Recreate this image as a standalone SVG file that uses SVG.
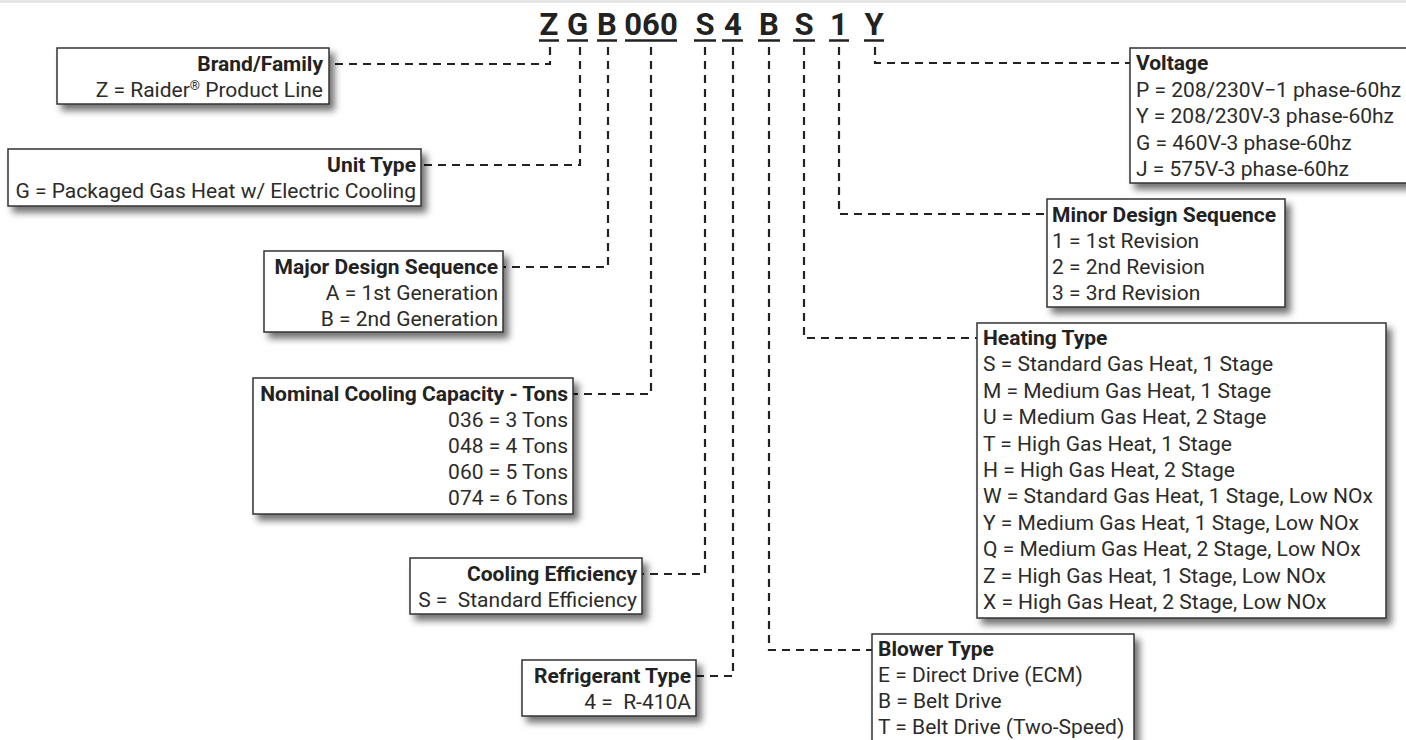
<svg xmlns="http://www.w3.org/2000/svg" width="1406" height="740" viewBox="0 0 1406 740">
<style>
.hdr{font-family:Roboto,"Liberation Sans",sans-serif;font-weight:bold;font-size:31px;fill:#222;text-anchor:middle}
.ul{stroke:#222;stroke-width:2.5}
.box{fill:#fff;stroke:#333;stroke-width:1.5;filter:url(#sh)}
.t{font-family:Roboto,"Liberation Sans",sans-serif;font-size:21px;fill:#2b2b2b}
.b{font-weight:bold;fill:#222}
.r{text-anchor:end}
.con{fill:none;stroke:#222;stroke-width:2.2;stroke-dasharray:8 6}
</style>
<defs>
<filter id="sh" x="-10%" y="-20%" width="130%" height="160%">
<feDropShadow dx="5" dy="6" stdDeviation="3.5" flood-color="#000" flood-opacity="0.55"/>
</filter>
</defs>
<rect x="0" y="0" width="1406" height="3" fill="#e6e6e6"/>
<g id="model-code">
<text class="hdr" x="549" y="35">Z</text>
<text class="hdr" x="577.5" y="35">G</text>
<text class="hdr" x="607" y="35">B</text>
<text class="hdr" x="651" y="35">060</text>
<text class="hdr" x="705" y="35">S</text>
<text class="hdr" x="733" y="35">4</text>
<text class="hdr" x="769" y="35">B</text>
<text class="hdr" x="804" y="35">S</text>
<text class="hdr" x="839" y="35">1</text>
<text class="hdr" x="874" y="35">Y</text>
<line class="ul" x1="539" y1="40.5" x2="559" y2="40.5"/>
<line class="ul" x1="567" y1="40.5" x2="588" y2="40.5"/>
<line class="ul" x1="597" y1="40.5" x2="617" y2="40.5"/>
<line class="ul" x1="625" y1="40.5" x2="677" y2="40.5"/>
<line class="ul" x1="694" y1="40.5" x2="716" y2="40.5"/>
<line class="ul" x1="722" y1="40.5" x2="743" y2="40.5"/>
<line class="ul" x1="758" y1="40.5" x2="780" y2="40.5"/>
<line class="ul" x1="793" y1="40.5" x2="815" y2="40.5"/>
<line class="ul" x1="829" y1="40.5" x2="849" y2="40.5"/>
<line class="ul" x1="864" y1="40.5" x2="884" y2="40.5"/>
</g>
<g id="connectors">
<path class="con" d="M550,47 V64 H329"/>
<path class="con" d="M580,47 V165 H421"/>
<path class="con" d="M608,47 V267 H503"/>
<path class="con" d="M651,47 V394 H573"/>
<path class="con" d="M705,47 V574 H642"/>
<path class="con" d="M733,47 V676 H696"/>
<path class="con" d="M769,47 V650 H872"/>
<path class="con" d="M804,47 V338 H977"/>
<path class="con" d="M839,47 V214 H1047"/>
<path class="con" d="M875,47 V63 H1130"/>
</g>
<g id="brand">
<rect class="box" x="57" y="48" width="272" height="56"/>
<text class="t b r" x="323" y="71">Brand/Family</text>
<text class="t r" x="323" y="97">Z = Raider<tspan font-size="13" dy="-7">®</tspan><tspan dy="7"> Product Line</tspan></text>
</g>
<g id="unit-type">
<rect class="box" x="8" y="149" width="413" height="57"/>
<text class="t b r" x="416" y="172">Unit Type</text>
<text class="t r" x="416" y="198">G = Packaged Gas Heat w/ Electric Cooling</text>
</g>
<g id="major-design">
<rect class="box" x="264" y="251" width="239" height="81"/>
<text class="t b r" x="498" y="274">Major Design Sequence</text>
<text class="t r" x="498" y="300">A = 1st Generation</text>
<text class="t r" x="498" y="326">B = 2nd Generation</text>
</g>
<g id="nominal-cooling">
<rect class="box" x="253" y="378" width="320" height="136"/>
<text class="t b r" x="568" y="401">Nominal Cooling Capacity - Tons</text>
<text class="t r" x="568" y="427">036 = 3 Tons</text>
<text class="t r" x="568" y="453">048 = 4 Tons</text>
<text class="t r" x="568" y="479">060 = 5 Tons</text>
<text class="t r" x="568" y="505">074 = 6 Tons</text>
</g>
<g id="cooling-efficiency">
<rect class="box" x="410" y="558" width="232" height="56"/>
<text class="t b r" x="637" y="581">Cooling Efficiency</text>
<text class="t r" x="637" y="607" xml:space="preserve">S =  Standard Efficiency</text>
</g>
<g id="refrigerant">
<rect class="box" x="522" y="660" width="174" height="56"/>
<text class="t b r" x="691" y="683">Refrigerant Type</text>
<text class="t r" x="691" y="709" xml:space="preserve">4 =  R-410A</text>
</g>
<g id="voltage">
<rect class="box" x="1130" y="48" width="290" height="135"/>
<text class="t b" x="1136" y="70">Voltage</text>
<text class="t" x="1136" y="96.5">P = 208/230V−1 phase-60hz</text>
<text class="t" x="1136" y="123">Y = 208/230V-3 phase-60hz</text>
<text class="t" x="1136" y="149.5">G = 460V-3 phase-60hz</text>
<text class="t" x="1136" y="176">J = 575V-3 phase-60hz</text>
</g>
<g id="minor-design">
<rect class="box" x="1047" y="199" width="238" height="108"/>
<text class="t b" x="1052" y="222">Minor Design Sequence</text>
<text class="t" x="1052" y="248">1 = 1st Revision</text>
<text class="t" x="1052" y="274">2 = 2nd Revision</text>
<text class="t" x="1052" y="300">3 = 3rd Revision</text>
</g>
<g id="heating-type">
<rect class="box" x="977" y="323" width="409" height="295"/>
<text class="t b" x="983" y="345">Heating Type</text>
<text class="t" x="983" y="371.4">S = Standard Gas Heat, 1 Stage</text>
<text class="t" x="983" y="397.8">M = Medium Gas Heat, 1 Stage</text>
<text class="t" x="983" y="424.2">U = Medium Gas Heat, 2 Stage</text>
<text class="t" x="983" y="450.6">T = High Gas Heat, 1 Stage</text>
<text class="t" x="983" y="477">H = High Gas Heat, 2 Stage</text>
<text class="t" x="983" y="503.4">W = Standard Gas Heat, 1 Stage, Low NOx</text>
<text class="t" x="983" y="529.8">Y = Medium Gas Heat, 1 Stage, Low NOx</text>
<text class="t" x="983" y="556.2">Q = Medium Gas Heat, 2 Stage, Low NOx</text>
<text class="t" x="983" y="582.6">Z = High Gas Heat, 1 Stage, Low NOx</text>
<text class="t" x="983" y="609">X = High Gas Heat, 2 Stage, Low NOx</text>
</g>
<g id="blower-type">
<rect class="box" x="872" y="634" width="262" height="120"/>
<text class="t b" x="878" y="656">Blower Type</text>
<text class="t" x="878" y="682">E = Direct Drive (ECM)</text>
<text class="t" x="878" y="708">B = Belt Drive</text>
<text class="t" x="878" y="734">T = Belt Drive (Two-Speed)</text>
</g>
</svg>
